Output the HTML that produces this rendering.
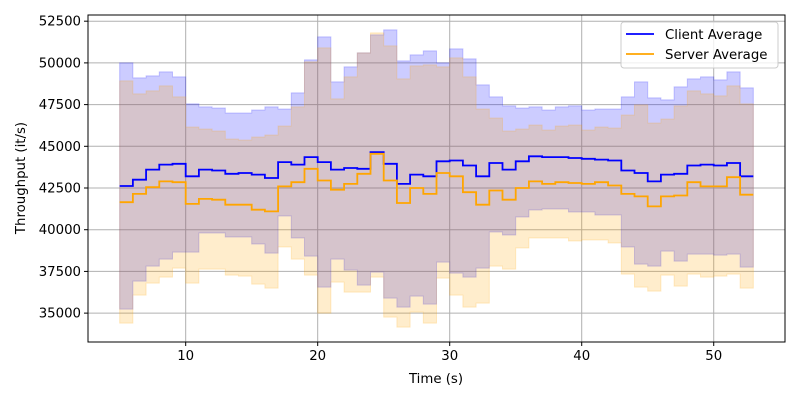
<!DOCTYPE html>
<html><head><meta charset="utf-8"><style>
body{margin:0;background:#fff;}
svg{font-family:"DejaVu Sans","Liberation Sans",sans-serif;}
</style></head><body>
<svg id="chart" width="800" height="400" xmlns="http://www.w3.org/2000/svg">
<rect width="800" height="400" fill="#fff"/>
<g id="grid"></g>
<g id="fills"></g>
<g id="lines"></g>
<rect x="88" y="15" width="697" height="327" fill="none" stroke="#000" stroke-width="1"/>
<g id="ticks"></g>
<text x="436" y="383" text-anchor="middle" font-size="13.3">Time (s)</text>
<text transform="translate(25,178) rotate(-90)" text-anchor="middle" font-size="13.3">Throughput (it/s)</text>
<g>
<rect x="621" y="22" width="157" height="46" rx="3" fill="#fff" fill-opacity="0.8" stroke="#ccc"/>
<g><line x1="626" y1="34" x2="654" y2="34" stroke="#0000ff" stroke-width="1.8"/><text x="665" y="39" font-size="13.3">Client Average</text></g>
<g><line x1="626" y1="54" x2="654" y2="54" stroke="#ffa500" stroke-width="1.8"/><text x="665" y="59" font-size="13.3">Server Average</text></g>
</g>
</svg>
<script>
const times = [5,6,7,8,9,10,11,12,13,14,15,16,17,18,19,20,21,22,23,24,25,26,27,28,29,30,31,32,33,34,35,36,37,38,39,40,41,42,43,44,45,46,47,48,49,50,51,52];
const clientAvg = [42620,43000,43600,43900,43950,43200,43600,43550,43350,43400,43300,43100,44050,43900,44350,44050,43600,43700,43650,44650,43950,42750,43300,43200,44100,44150,43850,43200,44000,43600,44100,44400,44350,44350,44300,44250,44200,44150,43550,43400,42900,43300,43350,43850,43900,43850,44000,43200];
const serverAvg = [41650,42150,42550,42900,42850,41550,41850,41800,41500,41500,41200,41100,42600,42850,43650,42950,42400,42750,43350,44550,42950,41600,42500,42150,43400,43200,42250,41500,42350,41800,42500,42900,42750,42850,42800,42750,42850,42650,42150,42000,41400,42000,42050,42850,42600,42600,43150,42100];
const clientMax = [50000,49100,49220,49460,49160,47540,47360,47300,47000,47000,47180,47360,47240,48200,50180,51560,48860,49760,50600,51680,51980,50120,50480,50720,50000,50840,50240,48680,47960,47420,47300,47360,47180,47360,47420,47180,47240,47240,47960,48860,47900,47780,48560,49040,49160,48980,49460,48500];
const clientMin = [35240,36920,37820,38240,38660,38660,39800,39800,39560,39560,39140,38600,40820,39500,38420,36560,38240,37580,36680,37460,35900,35360,36020,35540,38060,37400,37160,37700,39860,39680,40760,41180,41240,41240,41060,41060,40880,40880,38960,37940,37820,38720,38120,38540,38540,38480,38540,37760];
const serverMax = [48920,48140,48320,48620,47960,46160,46040,45920,45440,45380,45560,45680,46220,47360,50060,50900,47840,49160,50600,51800,51020,49040,49820,49880,49760,50300,49160,47240,46700,45920,46040,46280,45980,46220,46280,45980,46160,46100,46880,47480,46400,46640,47420,48320,48140,48020,48620,47540];
const serverMin = [34400,36080,36800,37160,37700,36800,37640,37640,37280,37220,36740,36500,38960,38240,37280,35000,36860,36260,36260,37160,34760,34160,35060,34400,37100,36080,35360,35600,37820,37640,38900,39500,39500,39500,39320,39380,39380,39200,37340,36560,36320,37280,36620,37340,37160,37220,37340,36500];
const xTicks = [10,20,30,40,50];
const yTicks = [35000,37500,40000,42500,45000,47500,50000,52500];

const NS="http://www.w3.org/2000/svg";
const x0=88,x1=785,y0=342,y1=15;
const tmin=times[0], tmax=times[times.length-1]+1;
const xmargin=(tmax-tmin)*0.05;
const allv=clientMin.concat(serverMin,clientMax,serverMax);
const vmin=Math.min(...allv), vmax=Math.max(...allv), ym=(vmax-vmin)*0.05;
const X=t=>x0+(t-(tmin-xmargin))/((tmax+xmargin)-(tmin-xmargin))*(x1-x0);
const Y=v=>y0-(v-(vmin-ym))/((vmax+ym)-(vmin-ym))*(y0-y1);
function el(tag,attrs,parent){const e=document.createElementNS(NS,tag);for(const k in attrs)e.setAttribute(k,attrs[k]);parent.appendChild(e);return e;}
function stepPts(vals){const p=[];vals.forEach((v,i)=>{p.push([X(times[i]),Y(v)]);p.push([X(times[i]+1),Y(v)]);});return p;}
const grid=document.getElementById('grid'),ticks=document.getElementById('ticks');
xTicks.forEach(t=>{
 const g=el('line',{x1:X(t),x2:X(t),y1:y1,y2:y0,stroke:'#b0b0b0','stroke-width':1},grid);
 
 el('line',{x1:X(t),x2:X(t),y1:y0,y2:y0+4,stroke:'#000'},ticks);
 const tx=el('text',{x:X(t),y:y0+18,'text-anchor':'middle','font-size':13.3},ticks);tx.textContent=t;
 
});
yTicks.forEach(v=>{
 const g=el('line',{x1:x0,x2:x1,y1:Y(v),y2:Y(v),stroke:'#b0b0b0','stroke-width':1},grid);
 
 el('line',{x1:x0-4,x2:x0,y1:Y(v),y2:Y(v),stroke:'#000'},ticks);
 const tx=el('text',{x:x0-7,y:Y(v)+4.5,'text-anchor':'end','font-size':13.3},ticks);tx.textContent=v;
 
});
function band(lo,hi,color,name){
 const top=stepPts(hi),bot=stepPts(lo).reverse();
 const d='M'+top.concat(bot).map(p=>p[0].toFixed(2)+','+p[1].toFixed(2)).join('L')+'Z';
 const p=el('path',{d:d,fill:color,'fill-opacity':0.2,stroke:color,'stroke-opacity':0.2,'stroke-width':1},document.getElementById('fills'));
 
}
band(clientMin,clientMax,'#0000ff','client-range-band');
band(serverMin,serverMax,'#ffa500','server-range-band');
function line(vals,color,name){
 const pts=stepPts(vals);
 const d='M'+pts.map(p=>p[0].toFixed(2)+','+p[1].toFixed(2)).join('L');
 const p=el('path',{d:d,fill:'none',stroke:color,'stroke-width':1.8},document.getElementById('lines'));
 
}
line(clientAvg,'#0000ff','client-average-line');
line(serverAvg,'#ffa500','server-average-line');
</script>
</body></html>
